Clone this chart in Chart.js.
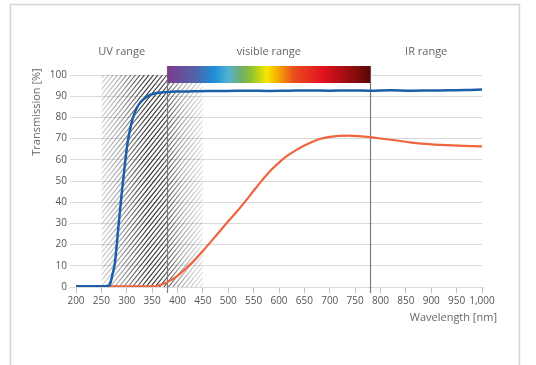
<!DOCTYPE html>
<html>
<head>
<meta charset="utf-8">
<script src="https://cdn.jsdelivr.net/npm/chart.js@4.4.1/dist/chart.umd.min.js"></script>
<style>
  html, body { margin: 0; padding: 0; background: #fff; }
  #wrap { position: relative; width: 536px; height: 365px; }
</style>
</head>
<body>
<div id="wrap"><canvas id="chart" width="536" height="365"></canvas></div>
<script>
// values
const blueWavelength = [200, 230, 255, 265, 268, 272, 277, 283, 290, 296, 301, 308, 316, 325, 336, 348, 360, 380, 400, 430, 460, 500, 540, 580, 620, 660, 700, 740, 780, 820, 860, 900, 940, 970, 1000];
const blueTransmission = [0.3, 0.3, 0.4, 0.6, 2, 6, 12, 27, 44, 57, 67, 76, 82.5, 86.5, 89.2, 90.8, 91.5, 92, 92.2, 92.3, 92.4, 92.5, 92.6, 92.5, 92.6, 92.7, 92.6, 92.7, 92.6, 92.8, 92.6, 92.7, 92.8, 92.9, 93.2];

const orangeWavelength = [200, 250, 300, 350, 360, 370, 380, 400, 418, 437, 450, 468, 485, 500, 517, 534, 550, 567, 583, 600, 616, 632, 648, 665, 682, 700, 718, 735, 757, 780, 808, 835, 858, 880, 905, 930, 965, 1000];
const orangeTransmission = [0.3, 0.3, 0.3, 0.3, 0.6, 1.3, 2.3, 5.3, 9, 13.5, 17, 22, 26.8, 31, 35.6, 40.5, 45.4, 50.4, 54.8, 58.7, 61.8, 64.3, 66.5, 68.4, 69.9, 70.8, 71.3, 71.4, 71.2, 70.7, 69.8, 69, 68.2, 67.6, 67.2, 66.9, 66.6, 66.3];

const rangeLabels = ['UV range', 'visible range', 'IR range'];
const rangeBounds = [200, 380, 780, 1000];
const hatchRange = [250, 450];
const xTicks = { min: 200, max: 1000, step: 50 };
const yTicks = { min: 0, max: 100, step: 10 };

const textColor = '#666';
const fontFamily = '"Open Sans", "Noto Sans", sans-serif';

function toPoints(xs, ys) {
    return xs.map((x, i) => ({ x: x, y: ys[i] }));
}

const overlay = {
    id: 'overlay',
    beforeDraw(chart) {
        const ctx = chart.ctx;
        ctx.save();
        ctx.strokeStyle = '#d4d4d4';
        ctx.lineWidth = 1.5;
        ctx.beginPath();
        ctx.moveTo(10.5, 365);
        ctx.lineTo(10.5, 4.5);
        ctx.lineTo(519.5, 4.5);
        ctx.lineTo(519.5, 365);
        ctx.stroke();
        ctx.restore();
    },
    beforeDatasetsDraw(chart) {
        const ctx = chart.ctx;
        const xs = chart.scales.x, ys = chart.scales.y;
        const x0 = xs.getPixelForValue(hatchRange[0]);
        const x1 = xs.getPixelForValue(hatchRange[1]);
        const yTop = ys.getPixelForValue(100);
        const yBot = ys.getPixelForValue(0);

        // hatched band, faded at both sides
        const off = document.createElement('canvas');
        off.width = chart.width;
        off.height = chart.height;
        const o = off.getContext('2d');
        o.save();
        o.beginPath();
        o.rect(x0, yTop, x1 - x0, yBot - yTop);
        o.clip();
        o.strokeStyle = '#111';
        o.lineWidth = 1.2;
        const h = yBot - yTop;
        o.beginPath();
        for (let k = x0 - h; k < x1 + 5; k += 4.5) {
            o.moveTo(k, yBot);
            o.lineTo(k + h * 0.8, yTop);
        }
        o.stroke();
        o.restore();
        o.globalCompositeOperation = 'destination-in';
        const g = o.createLinearGradient(x0, 0, x1, 0);
        g.addColorStop(0, 'rgba(0,0,0,0.18)');
        g.addColorStop(0.2, 'rgba(0,0,0,0.4)');
        g.addColorStop(0.45, 'rgba(0,0,0,0.85)');
        g.addColorStop(0.6, 'rgba(0,0,0,0.8)');
        g.addColorStop(0.8, 'rgba(0,0,0,0.35)');
        g.addColorStop(1, 'rgba(0,0,0,0.12)');
        o.fillStyle = g;
        o.fillRect(x0, yTop, x1 - x0, h);
        ctx.drawImage(off, 0, 0);

        // range boundaries
        ctx.save();
        ctx.strokeStyle = '#7a7a7a';
        ctx.lineWidth = 1.2;
        [rangeBounds[1], rangeBounds[2]].forEach(v => {
            const x = Math.round(xs.getPixelForValue(v)) + 0.5;
            ctx.beginPath();
            ctx.moveTo(x, yTop - 9);
            ctx.lineTo(x, yBot + 6);
            ctx.stroke();
        });
        ctx.restore();
    },
    afterDatasetsDraw(chart) {
        const ctx = chart.ctx;
        const xs = chart.scales.x, ys = chart.scales.y;
        const yTop = ys.getPixelForValue(100);
        const bx0 = xs.getPixelForValue(rangeBounds[1]);
        const bx1 = xs.getPixelForValue(rangeBounds[2]);

        // visible spectrum bar
        const sg = ctx.createLinearGradient(bx0, 0, bx1, 0);
        sg.addColorStop(0, '#7b3b8d');
        sg.addColorStop(0.13, '#5560a8');
        sg.addColorStop(0.23, '#1e8ed8');
        sg.addColorStop(0.3, '#4fb3d0');
        sg.addColorStop(0.36, '#70ae70');
        sg.addColorStop(0.41, '#8cc030');
        sg.addColorStop(0.49, '#f6e800');
        sg.addColorStop(0.54, '#f7b000');
        sg.addColorStop(0.62, '#ea4f1e');
        sg.addColorStop(0.77, '#e0101e');
        sg.addColorStop(0.88, '#a00e10');
        sg.addColorStop(1, '#5a0806');
        ctx.save();
        ctx.fillStyle = sg;
        ctx.fillRect(bx0, yTop - 9, bx1 - bx0, 17);

        // range labels
        ctx.fillStyle = textColor;
        ctx.font = '11px ' + fontFamily;
        ctx.textAlign = 'center';
        ctx.textBaseline = 'middle';
        rangeLabels.forEach((t, i) => {
            const mid = (rangeBounds[i] + rangeBounds[i + 1]) / 2;
            ctx.fillText(t, xs.getPixelForValue(mid), 52);
        });

        // axis titles
        ctx.textAlign = 'right';
        ctx.fillText('Wavelength [nm]', 497, 318);
        ctx.translate(37, 112);
        ctx.rotate(-Math.PI / 2);
        ctx.textAlign = 'center';
        ctx.fillText('Transmission [%]', 0, 0);
        ctx.restore();
    }
};

new Chart(document.getElementById('chart'), {
    type: 'line',
    data: {
        datasets: [{
            label: 'blue',
            data: toPoints(blueWavelength, blueTransmission),
            borderColor: '#1d5ea9',
            borderWidth: 2.5,
            pointRadius: 0,
            cubicInterpolationMode: 'monotone',
            fill: false
        }, {
            label: 'orange',
            data: toPoints(orangeWavelength, orangeTransmission),
            borderColor: '#f0643e',
            borderWidth: 2.2,
            pointRadius: 0,
            cubicInterpolationMode: 'monotone',
            fill: false
        }]
    },
    options: {
        responsive: false,
        animation: false,
        events: [],
        layout: { padding: { left: 0, top: 75, right: 54, bottom: 0 } },
        plugins: {
            legend: { display: false },
            tooltip: { enabled: false }
        },
        scales: {
            x: {
                type: 'linear',
                min: xTicks.min,
                max: xTicks.max,
                afterFit: s => { s.height = 78; },
                ticks: {
                    stepSize: xTicks.step,
                    color: '#555',
                    font: { family: fontFamily, size: 10 },
                    padding: 2,
                    maxRotation: 0,
                    autoSkip: false
                },
                grid: {
                    drawOnChartArea: false,
                    color: '#c4c4c4',
                    tickLength: 6
                },
                border: { display: false }
            },
            y: {
                min: yTicks.min,
                max: yTicks.max,
                afterFit: s => { s.width = 76; },
                ticks: {
                    stepSize: yTicks.step,
                    color: '#555',
                    font: { family: fontFamily, size: 10 },
                    padding: 3
                },
                grid: {
                    color: '#dadada',
                    tickLength: 6
                },
                border: { display: false }
            }
        }
    },
    plugins: [overlay]
});
</script>
</body>
</html>
